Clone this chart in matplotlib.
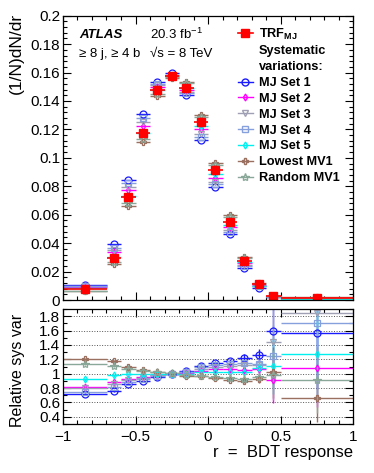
import numpy as np
import matplotlib
matplotlib.use('Agg')
import matplotlib.pyplot as plt
from matplotlib.lines import Line2D
from matplotlib.ticker import MultipleLocator, FormatStrFormatter, FuncFormatter

plt.rcParams['font.family'] = ['Liberation Sans', 'DejaVu Sans']
plt.rcParams['mathtext.fontset'] = 'custom'
plt.rcParams['mathtext.rm'] = 'Liberation Sans'
plt.rcParams['mathtext.bf'] = 'Liberation Sans:bold'
plt.rcParams['mathtext.it'] = 'Liberation Sans:italic'

# bin edges of r = BDT response
edges = [-1.0, -0.7, -0.6, -0.5, -0.4, -0.3, -0.2, -0.1, 0.0, 0.1, 0.2, 0.3, 0.4, 0.5, 1.0]

# nominal TRF_MJ shape, (1/N)dN/dr
trf = [0.0076, 0.0298, 0.0722, 0.1177, 0.1475, 0.1578, 0.1490,
       0.1252, 0.0913, 0.0546, 0.0274, 0.0110, 0.0028, 0.0013]

# relative sys var (nominal / variation)
mj1 = [0.72, 0.76, 0.855, 0.90, 0.96, 0.99, 1.035, 1.11, 1.15, 1.18, 1.22, 1.26, 1.59, 1.57]
mj2 = [0.81, 0.88, 0.93, 0.96, 0.985, 1.0, 1.01, 1.04, 1.06, 1.06, 1.05, 1.06, 0.91, 1.08]
mj3 = [0.80, 0.85, 0.91, 0.94, 0.975, 0.995, 1.02, 1.07, 1.10, 1.11, 1.12, 1.12, 1.44, 1.85]
mj4 = [0.75, 0.81, 0.88, 0.92, 0.97, 0.995, 1.025, 1.09, 1.12, 1.14, 1.15, 1.14, 1.24, 1.71]
mj5 = [0.92, 0.98, 0.99, 1.0, 1.0, 1.0, 1.0, 1.02, 1.03, 1.03, 1.02, 1.08, 1.11, 1.28]
lowest = [1.20, 1.17, 1.095, 1.057, 1.026, 1.01, 0.97, 0.962, 0.945, 0.915, 0.90, 0.93, 1.02, 0.66]
random = [1.14, 1.11, 1.06, 1.04, 1.02, 1.005, 0.975, 0.97, 0.96, 0.935, 0.93, 0.955, 0.98, 0.91]

# relative stat. uncertainty per bin
err_rel = [0.02, 0.02, 0.015, 0.012, 0.01, 0.01, 0.01, 0.015, 0.02, 0.025, 0.04, 0.07, 0.35, 0.5]

series = [
    ('MJ Set 1', mj1, '#1a1aff', 'o', 5.0),
    ('MJ Set 2', mj2, '#ff00ff', 'd', 3.5),
    ('MJ Set 3', mj3, '#a0a0b4', 'v', 5.0),
    ('MJ Set 4', mj4, '#85a0dc', 's', 5.0),
    ('MJ Set 5', mj5, '#00f0f0', 'd', 3.5),
    ('Lowest MV1', lowest, '#9a7060', 'P', 5.0),
    ('Random MV1', random, '#8aa899', '*', 6.0),
]

edges = np.array(edges)
lo, hi = edges[:-1], edges[1:]
cen = 0.5 * (lo + hi)
xerr = [cen - lo, hi - cen]
trf = np.array(trf)
err_rel = np.array(err_rel)

fig = plt.figure(figsize=(3.74, 4.73), dpi=100)
ax = fig.add_axes([63/374, 1-300/473, 290/374, 284.3/473])
rax = fig.add_axes([63/374, 1-424/473, 290/374, 115/473])

for label, r, c, m, ms in series:
    r = np.array(r)
    ax.errorbar(cen, trf / r, xerr=xerr, fmt=m, color=c, mfc='none', mec=c,
                ms=ms, lw=1.0, capsize=0, mew=0.9)
    rax.errorbar(cen, r, xerr=xerr, yerr=r * err_rel, fmt=m, color=c, mfc='none',
                 mec=c, ms=ms, lw=1.0, capsize=0, mew=0.9)

ax.errorbar(cen, trf, xerr=xerr, fmt='s', color='#ff0000', ms=5.5, lw=1.2, capsize=0)

# top panel axes
ax.set_xlim(-1, 1)
ax.set_ylim(0, 0.2)
ax.yaxis.set_major_locator(MultipleLocator(0.02))
ax.yaxis.set_minor_locator(MultipleLocator(0.004))
ax.yaxis.set_major_formatter(FormatStrFormatter('%g'))
for a in (ax, rax):
    a.xaxis.set_major_locator(MultipleLocator(0.5))
    a.xaxis.set_minor_locator(MultipleLocator(0.1))
    a.tick_params(which='both', direction='in', top=True, right=True, labelsize=11, pad=2)
    a.tick_params(which='major', length=5.5, width=0.8)
    a.tick_params(which='minor', length=3, width=0.8)
    for s in a.spines.values():
        s.set_linewidth(0.9)
ax.tick_params(labelbottom=False)

# ratio panel axes
rax.set_xlim(-1, 1)
rax.set_ylim(0.3, 1.9)
rax.yaxis.set_minor_locator(MultipleLocator(0.1))
rax.yaxis.set_major_formatter(FormatStrFormatter('%g'))
rax.xaxis.set_major_formatter(FuncFormatter(lambda v, p: ('%g' % v).replace('-', '\u2212')))
rax.set_yticks([0.4, 0.6, 0.8, 1.0, 1.2, 1.4, 1.6, 1.8])
rax.grid(axis='y', linestyle=':', color='#555555', lw=0.7)
rax.tick_params(axis='x', pad=4)

# labels
fig.text(16.5/374, 1-13/473, '(1/N)dN/dr', rotation=90, ha='center', va='top', fontsize=12.5)
fig.text(17.5/374, 1-370/473, 'Relative sys var', rotation=90, ha='center', va='center', fontsize=11.5)
fig.text(353/374, 1-452/473, 'r  =  BDT response', ha='right', va='center', fontsize=12)

fig.text(79/374, 1-35/473, 'ATLAS', weight='bold', style='italic', fontsize=9.5, va='center')
fig.text(79/374, 1-54/473, '\u2265 8 j, \u2265 4 b', fontsize=9.5, va='center')
fig.text(150/374, 1-34/473, '20.3 fb$^{-1}$', fontsize=9.5, va='center')
fig.text(150/374, 1-54/473, '\u221as = 8 TeV', fontsize=9.5, va='center')

# legend
handles = [Line2D([0], [0], color='#ff0000', marker='s', ms=5.5, lw=1.2)]
labels = [r'TRF$_{\mathbf{MJ}}$']
for txt in ('Systematic', 'variations:'):
    handles.append(Line2D([], [], linestyle='none'))
    labels.append(txt)
for label, r, c, m, ms in series:
    handles.append(Line2D([0], [0], color=c, marker=m, mfc='none', mec=c, ms=ms, lw=1.0))
    labels.append(label)
ax.legend(handles, labels, loc='upper left', bbox_to_anchor=(0.603, 0.962),
          frameon=False, prop={'weight': 'bold', 'size': 9.2}, labelspacing=0.3,
          handlelength=1.15, handletextpad=0.5, borderpad=0, borderaxespad=0)

fig.savefig('out.png', dpi=100)
